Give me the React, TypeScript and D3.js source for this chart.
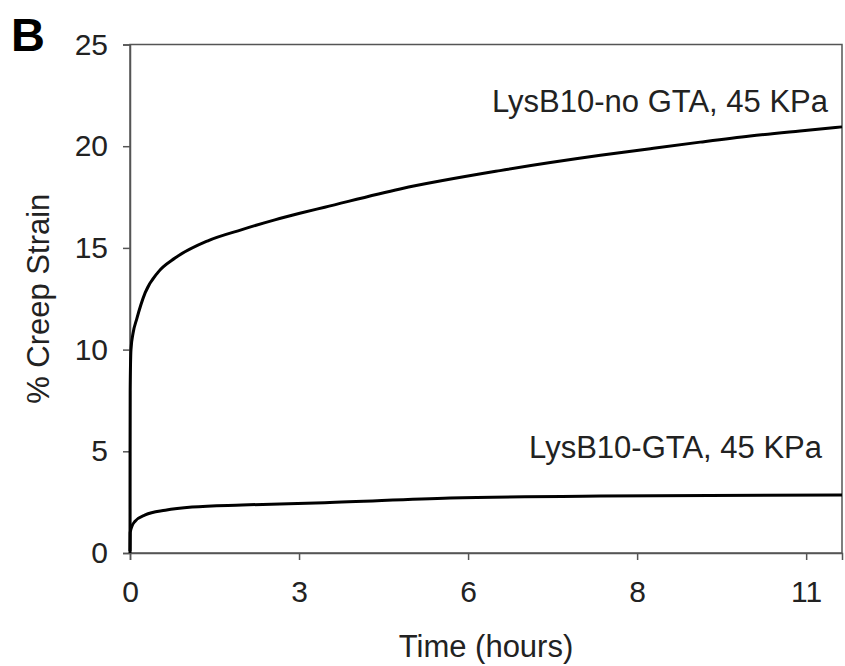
import React, { useEffect, useRef } from "react";
import * as d3 from "d3";

// creep curves, time in hours, strain in %
const noGtaTime = [0, 0.001, 0.003, 0.016, 0.05, 0.11, 0.25, 0.46, 0.74, 1.28, 1.84, 2.38, 2.79, 3.2, 4.44, 6.08, 7.73, 8.55, 9.37, 10.19, 11.01, 11.7];
const noGtaStrain = [0, 5, 8, 10, 10.8, 11.5, 12.8, 13.8, 14.5, 15.35, 15.9, 16.38, 16.7, 17.0, 17.9, 18.8, 19.55, 19.88, 20.2, 20.5, 20.75, 20.95];

const gtaTime = [0, 0.003, 0.03, 0.08, 0.25, 0.58, 1.02, 1.84, 3.2, 5.26, 7.73, 11.7];
const gtaStrain = [0.1, 1.0, 1.3, 1.55, 1.87, 2.1, 2.26, 2.36, 2.47, 2.7, 2.8, 2.85];

// ticks were every 10000 s, labelled in rounded hours
const xTickValues = [0, 10000 / 3600, 20000 / 3600, 30000 / 3600, 40000 / 3600];
const xTickLabels = ["0", "3", "6", "8", "11"];
const yTickValues = [0, 5, 10, 15, 20, 25];

const seriesLabels = ["LysB10-no GTA, 45 KPa", "LysB10-GTA, 45 KPa"];

const W = 845, H = 666;
const margin = { top: 44.5, right: 3, bottom: 113, left: 130 };
const font = "'Liberation Sans', Arial, sans-serif";

export default function App() {
  const ref = useRef<SVGSVGElement>(null);

  useEffect(() => {
    const svg = d3.select(ref.current);
    svg.selectAll("*").remove();

    const w = W - margin.left - margin.right;
    const h = H - margin.top - margin.bottom;

    const x = d3.scaleLinear().domain([0, 11.7]).range([0, w]);
    const y = d3.scaleLinear().domain([0, 25]).range([h, 0]);

    svg.append("text").attr("x", 11).attr("y", 51)
      .attr("font-family", font).attr("font-weight", "bold").attr("font-size", 47)
      .attr("fill", "#000").text("B");

    const g = svg.append("g").attr("transform", `translate(${margin.left},${margin.top})`);

    // frame
    g.append("rect").attr("x", 0).attr("y", 0).attr("width", w).attr("height", h)
      .attr("fill", "none").attr("stroke", "#555").attr("stroke-width", 1.5);

    const yAxis = g.append("g").call(
      d3.axisLeft(y).tickValues(yTickValues).tickSize(7).tickPadding(15).tickFormat(d3.format("d"))
    );
    const xAxis = g.append("g").attr("transform", `translate(0,${h})`).call(
      d3.axisBottom(x).tickValues(xTickValues).tickSize(7).tickPadding(21)
        .tickFormat((d, i) => xTickLabels[i])
    );
    [yAxis, xAxis].forEach(a => {
      a.select(".domain").attr("stroke", "#555").attr("stroke-width", 1.5);
      a.selectAll(".tick line").attr("stroke", "#555").attr("stroke-width", 1.5);
      a.selectAll(".tick text").attr("font-family", font).attr("font-size", 30).attr("fill", "#222");
    });

    const line = d3.line<[number, number]>()
      .x(d => x(d[0])).y(d => y(d[1]))
      .curve(d3.curveMonotoneX);

    const series = [
      noGtaTime.map((t, i) => [t, noGtaStrain[i]] as [number, number]),
      gtaTime.map((t, i) => [t, gtaStrain[i]] as [number, number]),
    ];
    g.selectAll(".curve").data(series).join("path").attr("class", "curve")
      .attr("d", d => line(d))
      .attr("fill", "none").attr("stroke", "#000").attr("stroke-width", 3);

    // curve labels
    g.append("text").attr("x", 828 - margin.left).attr("y", 112 - margin.top)
      .attr("text-anchor", "end").attr("font-family", font).attr("font-size", 31).attr("fill", "#222")
      .text(seriesLabels[0]);
    g.append("text").attr("x", 822 - margin.left).attr("y", 458 - margin.top)
      .attr("text-anchor", "end").attr("font-family", font).attr("font-size", 31).attr("fill", "#222")
      .text(seriesLabels[1]);

    // axis titles
    svg.append("text").attr("x", margin.left + w / 2).attr("y", 657)
      .attr("text-anchor", "middle").attr("font-family", font).attr("font-size", 31).attr("fill", "#222")
      .text("Time (hours)");
    svg.append("text").attr("transform", `translate(49,${margin.top + h / 2}) rotate(-90)`)
      .attr("text-anchor", "middle").attr("font-family", font).attr("font-size", 31).attr("fill", "#222")
      .text("% Creep Strain");
  }, []);

  return (
    <svg ref={ref} width={W} height={H}
      style={{ position: "absolute", left: 0, top: 0, background: "#fff" }} />
  );
}
